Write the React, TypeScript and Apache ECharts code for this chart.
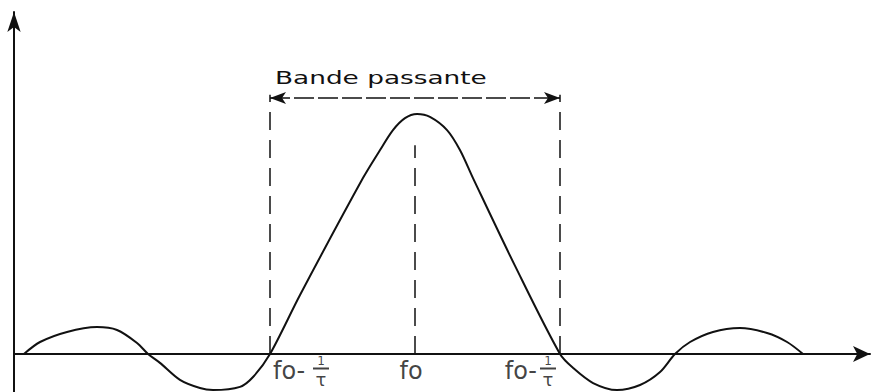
import { useEffect, useRef } from "react";
import * as echarts from "echarts";

// Frequency offset from f0, in units of 1/τ
const curveU = [
  -2.697, -2.586, -2.4, -2.193, -2.055, -1.917, -1.841, -1.759, -1.621, -1.483,
  -1.393, -1.207, -1.117, -1.0, -0.793, -0.359, -0.241, -0.152, -0.069, 0.014,
  0.103, 0.221, 0.31, 0.4, 0.69, 1.0, 1.09, 1.228, 1.393, 1.552, 1.69, 1.793,
  1.897, 2.055, 2.241, 2.428, 2.566, 2.676,
];
// Relative amplitude (peak = 1)
const curveV = [
  0, 0.05, 0.092, 0.112, 0.1, 0.046, 0, -0.037, -0.108, -0.142,
  -0.15, -0.137, -0.096, 0, 0.246, 0.733, 0.85, 0.933, 0.983, 1.0,
  0.988, 0.933, 0.85, 0.733, 0.367, 0, -0.058, -0.121, -0.15, -0.129, -0.075, 0,
  0.05, 0.092, 0.108, 0.0875, 0.05, 0,
];

const tickPos = [-1, 0, 1];
const tickMain = ["fo-", "fo", "fo-"];
const tickNum = ["1", "", "1"];
const tickDen = ["τ", "", "τ"];
const dashTop = [1.08, 0.87, 1.08];
const bandEdges = [-1, 1];
const bandLevel = 1.067;
const bandLabel = "Bande passante";

// layout (pixels / style only)
const mainOffsets = [
  { pos: [3, 5], align: "left" },
  { pos: [-4, 5], align: "center" },
  { pos: [-23, 5], align: "right" },
];
const fracOffsets = [[51, 1], [0, 0], [-12, 1]];

export default function App() {
  const ref = useRef<HTMLDivElement>(null);
  useEffect(() => {
    document.body.style.margin = "0";
    const chart = echarts.init(ref.current!, null, { renderer: "svg" });
    const font = '"DejaVu Sans", sans-serif';
    const ink = "#111";

    const labelItems: any[] = [];
    tickPos.forEach((u, i) => {
      const mo = mainOffsets[i];
      labelItems.push({
        value: [u, 0],
        label: {
          show: true,
          formatter: tickMain[i],
          position: mo.pos,
          align: mo.align,
          verticalAlign: "top",
          fontSize: 24,
          fontFamily: font,
          color: ink,
        },
      });
      if (tickNum[i]) {
        labelItems.push({
          value: [u, 0],
          label: {
            show: true,
            formatter: `{n|${tickNum[i]}}\n{b| }\n{d|${tickDen[i]}}`,
            position: fracOffsets[i],
            align: "center",
            verticalAlign: "top",
            fontFamily: font,
            color: ink,
            rich: {
              n: { fontSize: 12, lineHeight: 12, fontFamily: font, color: ink, align: "center" },
              b: {
                fontSize: 2,
                lineHeight: 3,
                height: 2,
                width: 16,
                backgroundColor: ink,
                align: "center",
              },
              d: { fontSize: 18, lineHeight: 18, fontFamily: font, color: ink, align: "center" },
            },
          },
        });
      }
    });

    const xMin = (14 - 415) / 145;
    const xMax = (870 - 415) / 145;
    const yMax = (354 - 12) / 240;
    const yMin = (354 - 392) / 240;

    chart.setOption({
      animation: false,
      backgroundColor: "#fff",
      grid: { left: 14, right: 8, top: 12, bottom: 0 },
      xAxis: {
        type: "value",
        min: xMin,
        max: xMax,
        axisLine: {
          onZero: true,
          symbol: ["none", "arrow"],
          symbolSize: [12, 17],
          lineStyle: { color: ink, width: 2 },
        },
        axisTick: { show: false },
        axisLabel: { show: false },
        splitLine: { show: false },
      },
      yAxis: {
        type: "value",
        min: yMin,
        max: yMax,
        axisLine: {
          show: true,
          onZero: false,
          symbol: ["none", "arrow"],
          symbolSize: [10, 20],
          lineStyle: { color: ink, width: 2 },
        },
        axisTick: { show: false },
        axisLabel: { show: false },
        splitLine: { show: false },
      },
      series: [
        {
          type: "line",
          data: curveU.map((u, i) => [u, curveV[i]]),
          smooth: 0.3,
          symbol: "none",
          silent: true,
          lineStyle: { color: ink, width: 2 },
          markLine: {
            silent: true,
            symbol: ["none", "none"],
            label: { show: false },
            lineStyle: { color: ink, width: 1.5, type: [18, 10] },
            data: tickPos.map((u, i) => [
              { coord: [u, 0] },
              { coord: [u, dashTop[i]] },
            ]),
          },
        },
        {
          type: "line",
          data: bandEdges.map((u) => [u, bandLevel]),
          symbol: "none",
          silent: true,
          lineStyle: { opacity: 0 },
          markLine: {
            silent: true,
            symbol: ["arrow", "arrow"],
            symbolSize: [9, 16],
            label: { show: false },
            lineStyle: { color: ink, width: 1.5, type: [20, 4] },
            data: [[{ coord: [bandEdges[0], bandLevel] }, { coord: [bandEdges[1], bandLevel] }]],
          },
        },
        {
          type: "scatter",
          symbolSize: 0,
          silent: true,
          itemStyle: { color: "transparent" },
          data: labelItems,
        },
      ],
    });

    const p = chart.convertToPixel({ xAxisIndex: 0, yAxisIndex: 0 }, [bandEdges[0], bandLevel]) as number[];
    chart.setOption({
      graphic: [
        {
          type: "text",
          x: p[0] + 5,
          y: p[1] - 12,
          scaleX: 1.55,
          silent: true,
          style: {
            text: bandLabel,
            font: `17px ${font}`,
            fill: ink,
            textAlign: "left",
            textVerticalAlign: "bottom",
          },
        },
      ],
    });

    return () => chart.dispose();
  }, []);
  return <div ref={ref} style={{ width: 878, height: 392 }} />;
}
